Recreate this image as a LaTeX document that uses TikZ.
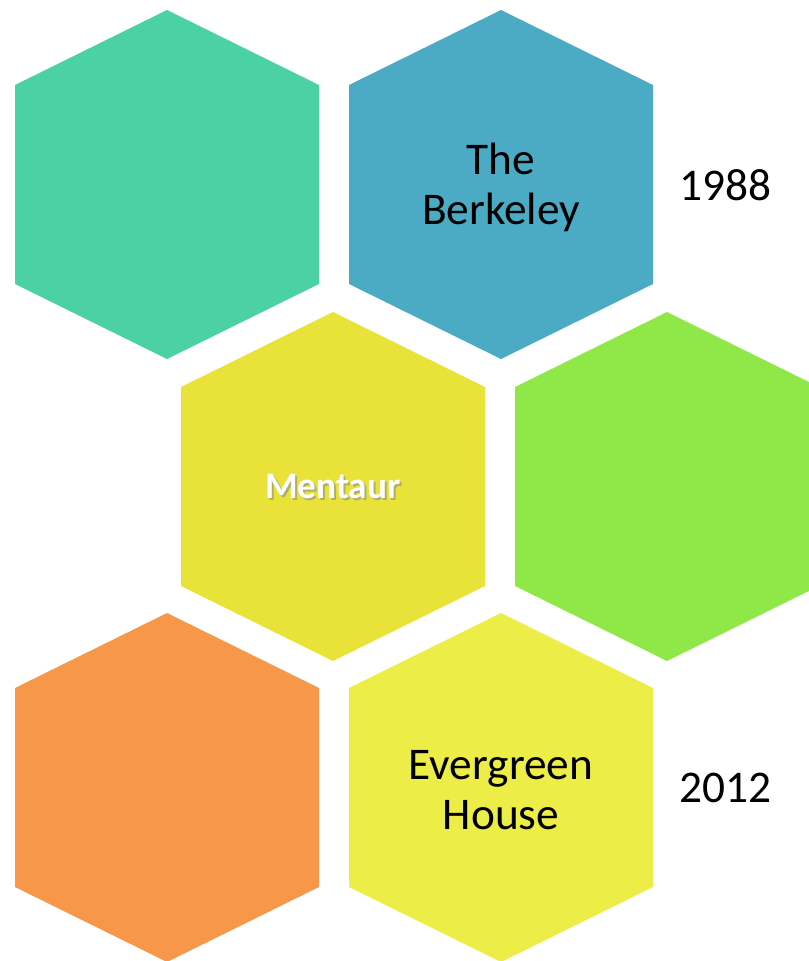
\documentclass[tikz,border=0pt]{standalone}
\usepackage{fontspec}
\setmainfont{Carlito}
\definecolor{cteal}{HTML}{4BD1A4}
\definecolor{cblue}{HTML}{4BABC5}
\definecolor{cyel}{HTML}{E9E239}
\definecolor{cgreen}{HTML}{90E848}
\definecolor{corange}{HTML}{F7974A}
\definecolor{clyel}{HTML}{EDED48}
\newcommand\myhex[4]{% cx, cy, color, name
  \fill[#3] (#1,#2-174.5) -- (#1+152,#2-99.5) -- (#1+152,#2+99.5) -- (#1,#2+174.5) -- (#1-152,#2+99.5) -- (#1-152,#2-99.5) -- cycle;
  \coordinate (#4) at (#1,#2);}
\tikzset{
  bigtxt/.style={font=\fontsize{34}{37.5}\selectfont, align=center, text=black, inner sep=0pt},
  smalltxt/.style={font=\fontsize{28}{30}\selectfont\bfseries, text=white, inner sep=0pt},
}
\begin{document}
\begin{tikzpicture}[x=0.75pt,y=-0.75pt]
\useasboundingbox (0,0) rectangle (809,961);
\begin{scope}
\clip (0,0) rectangle (809,961);
\myhex{167}{184.5}{cteal}{h1}
\myhex{501}{184.5}{cblue}{h2}
\myhex{333}{486.5}{cyel}{h3}
\myhex{667}{486.5}{cgreen}{h4}
\myhex{167}{787.5}{corange}{h5}
\myhex{501}{787.5}{clyel}{h6}
\end{scope}
\node[bigtxt] (berk) at (501,187) {The\\Berkeley};
\node[bigtxt] (y1988) at (725,185) {1988};
\node[smalltxt, text=black!45, opacity=0.6] (mshadow) at (334.8,488.8) {Mentaur};
\node[smalltxt] (ment) at (333,487) {Mentaur};
\node[bigtxt] (ever) at (501,790) {Evergreen\\House};
\node[bigtxt] (y2012) at (725,788) {2012};
\end{tikzpicture}
\end{document}
